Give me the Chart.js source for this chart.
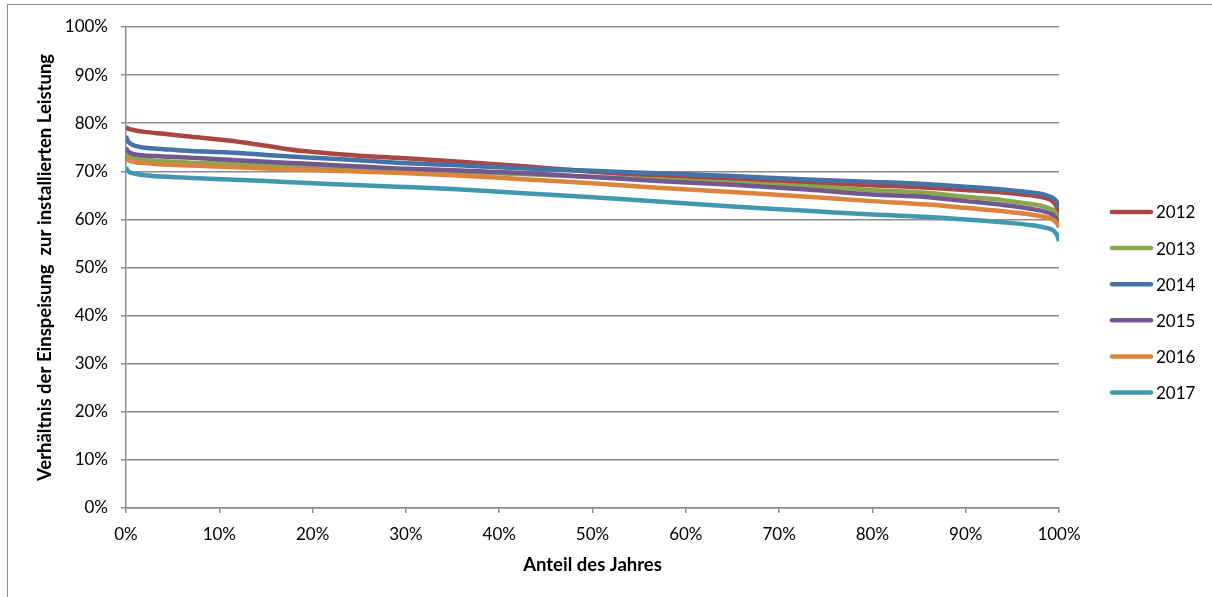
<!DOCTYPE html>
<html lang="de">
<head>
<meta charset="utf-8">
<title>Einspeisung zur installierten Leistung</title>
<script src="https://cdn.jsdelivr.net/npm/chart.js@4/dist/chart.umd.min.js"></script>
<style>
  html, body { margin: 0; padding: 0; background: #fff; }
  #wrap { position: relative; width: 1212px; height: 597px; overflow: hidden; }
  #frame {
    position: absolute; left: 7px; top: 4px; width: 1400px; height: 800px;
    border-left: 1px solid #8c8c8c; border-top: 1px solid #8c8c8c;
  }
  #chart { position: absolute; left: 0; top: 0; }
</style>
</head>
<body>
<div id="wrap">
  <div id="frame"></div>
  <canvas id="chart" width="1212" height="597"></canvas>
</div>
<script>
// Anteil des Jahres (%), gemeinsame Stützstellen aller Dauerlinien
const anteil = [0, 0.2, 0.5, 1, 2, 4, 7, 11, 15, 19, 24, 29, 35, 43, 50, 57, 65, 73, 80, 86, 90, 94, 97, 98.5, 99.3, 99.7, 99.9, 100];

// Verhältnis Einspeisung / installierte Leistung (%) je Jahr
const werte2012 = [79.2, 78.9, 78.7, 78.5, 78.2, 77.8, 77.2, 76.4, 75.3, 74.2, 73.4, 72.8, 72.1, 71.0, 69.9, 69.0, 68.3, 67.6, 67.1, 66.6, 66.1, 65.6, 65.0, 64.5, 63.8, 62.8, 61.8, 60.8];
const werte2013 = [73.6, 73.2, 72.9, 72.7, 72.4, 72.1, 71.8, 71.6, 71.3, 71.0, 70.7, 70.3, 69.9, 69.4, 68.8, 68.3, 67.6, 66.9, 66.1, 65.5, 64.7, 64.0, 63.2, 62.6, 62.0, 61.2, 60.3, 59.5];
const werte2014 = [77.3, 76.3, 75.7, 75.3, 74.9, 74.6, 74.2, 73.9, 73.4, 72.9, 72.4, 71.8, 71.3, 70.6, 70.1, 69.6, 69.0, 68.3, 67.8, 67.3, 66.8, 66.2, 65.6, 65.1, 64.5, 63.8, 63.0, 62.4];
const werte2015 = [74.9, 74.2, 73.8, 73.5, 73.3, 73.1, 72.8, 72.4, 72.0, 71.6, 71.1, 70.6, 70.2, 69.6, 68.8, 68.0, 67.2, 66.2, 65.2, 64.6, 63.8, 63.0, 62.2, 61.6, 61.0, 60.2, 59.4, 58.8];
const werte2016 = [72.9, 72.4, 72.1, 71.9, 71.7, 71.4, 71.2, 70.9, 70.6, 70.3, 70.0, 69.7, 69.2, 68.3, 67.5, 66.6, 65.7, 64.7, 63.8, 63.1, 62.4, 61.7, 61.0, 60.5, 60.0, 59.4, 58.8, 58.3];
const werte2017 = [70.8, 70.1, 69.7, 69.5, 69.2, 68.9, 68.6, 68.3, 68.0, 67.6, 67.2, 66.8, 66.3, 65.4, 64.6, 63.7, 62.7, 61.8, 61.0, 60.5, 60.0, 59.4, 58.8, 58.3, 57.8, 57.0, 56.2, 55.5];

const jahre  = ['2012', '2013', '2014', '2015', '2016', '2017'];
const reihen = [werte2012, werte2013, werte2014, werte2015, werte2016, werte2017];
const farben = ['#AA4643', '#89A54E', '#4572A7', '#71588F', '#DB843D', '#4198AF'];

const grau = '#8c8c8c';
Chart.defaults.font.family = 'Lato, "Open Sans", sans-serif';
Chart.defaults.color = '#000';

// Legende rechts neben dem Diagramm
const legendePlugin = {
  id: 'legendeRechts',
  afterDraw(chart) {
    const ctx = chart.ctx;
    ctx.save();
    ctx.font = '17px Lato, "Open Sans", sans-serif';
    ctx.textBaseline = 'middle';
    ctx.textAlign = 'left';
    chart.data.datasets.forEach((ds, i) => {
      const y = 212 + i * 36.1;
      ctx.strokeStyle = ds.borderColor;
      ctx.lineWidth = 4.5;
      ctx.lineCap = 'round';
      ctx.beginPath();
      ctx.moveTo(1112, y);
      ctx.lineTo(1151, y);
      ctx.stroke();
      ctx.fillStyle = '#000';
      ctx.fillText(ds.label, 1156, y + 1);
    });
    ctx.restore();
  }
};

const datasets = jahre.map((jahr, i) => ({
  label: jahr,
  data: anteil.map((x, k) => ({ x: x, y: reihen[i][k] })),
  borderColor: farben[i],
  backgroundColor: farben[i],
  borderWidth: 4.5,
  pointRadius: 0,
  cubicInterpolationMode: 'monotone',
  order: jahre.length - i   // spätere Jahre oben
}));

new Chart(document.getElementById('chart'), {
  type: 'line',
  data: { datasets },
  options: {
    responsive: false,
    animation: false,
    layout: { padding: { left: 0, right: 153, top: 27, bottom: 0 } },
    plugins: { legend: { display: false }, tooltip: { enabled: false } },
    scales: {
      x: {
        type: 'linear',
        min: 0,
        max: 100,
        afterFit: s => { s.height = 89; },
        ticks: {
          stepSize: 10,
          padding: 11,
          font: { size: 17 },
          maxRotation: 0,
          callback: v => v + '%'
        },
        grid: { drawOnChartArea: false, drawTicks: true, tickLength: 5, color: grau, lineWidth: 1.5 },
        border: { display: true, color: grau, width: 1.5 },
        title: {
          display: true,
          text: 'Anteil des Jahres',
          font: { size: 18.5, weight: 'bold' },
          padding: { top: 0, bottom: 21 }
        }
      },
      y: {
        min: 0,
        max: 100,
        afterFit: s => { s.width = 126; },
        ticks: {
          stepSize: 10,
          padding: 13,
          font: { size: 17 },
          callback: v => v + '%'
        },
        grid: { color: grau, lineWidth: 1.5, tickLength: 5 },
        border: { display: true, color: grau, width: 1.5 },
        title: {
          display: true,
          text: 'Verhältnis der Einspeisung  zur installierten Leistung',
          font: { size: 18.5, weight: 'bold' },
          padding: { top: 34, bottom: 0 }
        }
      }
    }
  },
  plugins: [legendePlugin]
});
</script>
</body>
</html>
